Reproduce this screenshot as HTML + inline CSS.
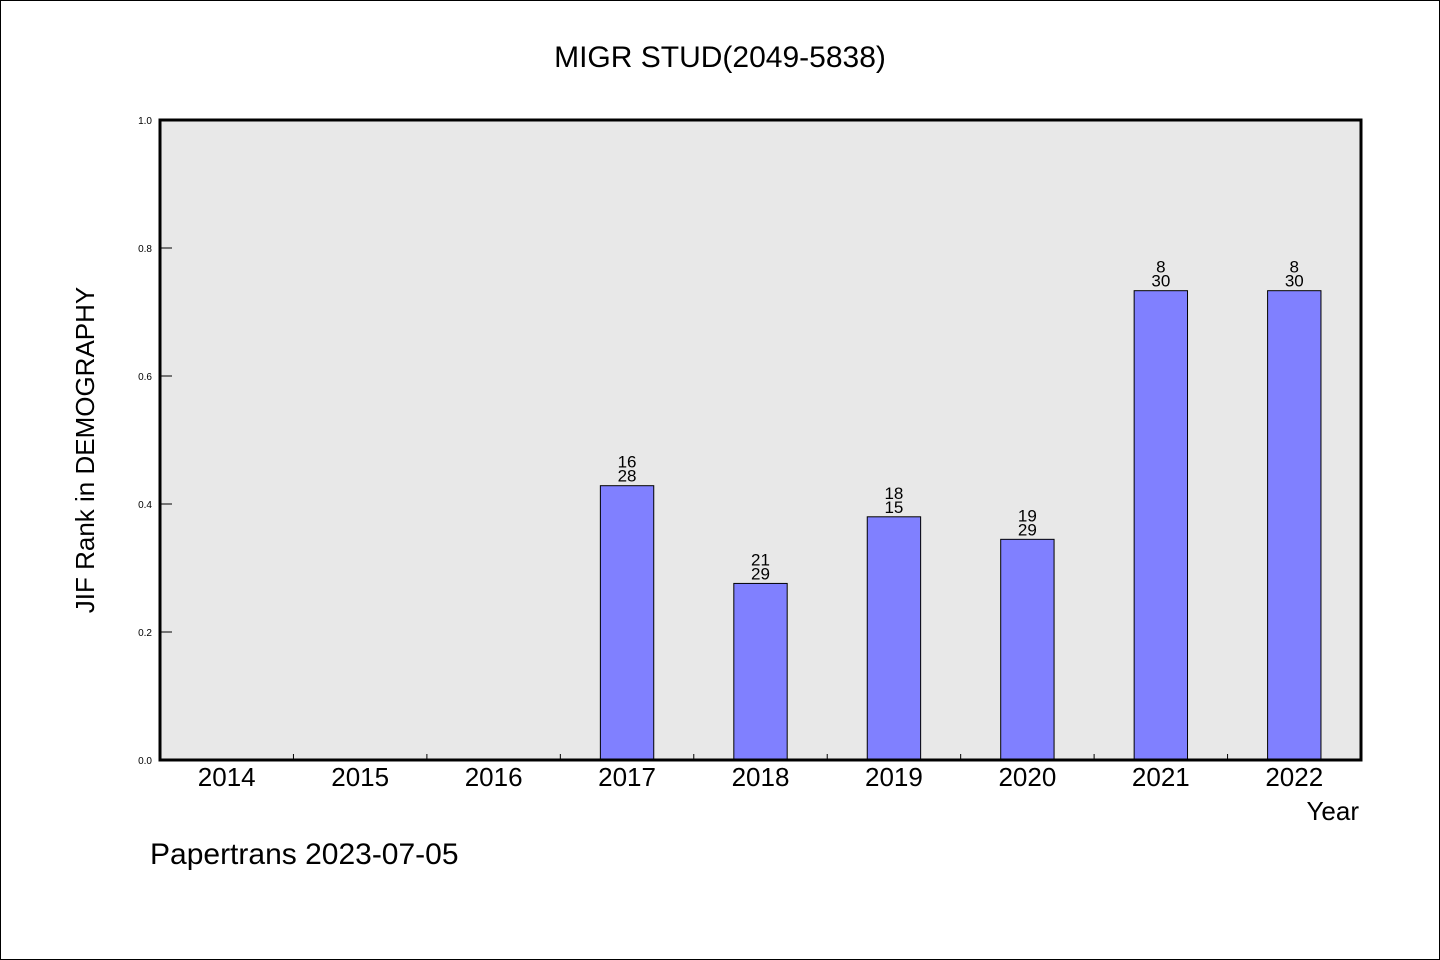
<!DOCTYPE html>
<html><head><meta charset="utf-8"><style>
html,body{margin:0;padding:0;background:#fff}
svg{display:block}
text{font-family:"WenQuanYi Zen Hei","Liberation Sans",sans-serif;fill:#000}
</style></head><body>
<svg id="chart" width="1440" height="960" viewBox="0 0 1440 960" xmlns="http://www.w3.org/2000/svg">
<rect x="0.5" y="0.5" width="1439" height="959" fill="#fff" stroke="#000"/>
<text x="720" y="67" font-size="30" text-anchor="middle">MIGR STUD(2049-5838)</text>
<rect x="160" y="120" width="1201" height="640" fill="#e8e8e8"/>
<g id="marks"></g>
<rect x="160" y="120" width="1201" height="640" fill="none" stroke="#000" stroke-width="3"/>
<text x="0" y="0" font-size="26" text-anchor="middle" transform="translate(94,450) rotate(-90)">JIF Rank in DEMOGRAPHY</text>
<text x="1359" y="820" font-size="26" text-anchor="end">Year</text>
<text x="150" y="864" font-size="30">Papertrans 2023-07-05</text>
</svg>
<script>
const categories = ["2014","2015","2016","2017","2018","2019","2020","2021","2022"];
const values = [null,null,null,0.4286,0.2759,0.38,0.3448,0.7333,0.7333];
const rankLabels = [null,null,null,"16","21","18","19","8","8"];
const totalLabels = [null,null,null,"28","29","15","29","30","30"];
const yTicks = [0,0.2,0.4,0.6,0.8,1.0];
const yTickLabels = ["0.0","0.2","0.4","0.6","0.8","1.0"];

const NS="http://www.w3.org/2000/svg";
const X0=160,X1=1361,Y0=760,Y1=120;
const band=(X1-X0)/categories.length;
const xScale=i=>X0+band*(i+0.5);
const yScale=v=>Y0-(Y0-Y1)*v;
const g=document.getElementById('marks');
function mk(tag,attrs,text){const e=document.createElementNS(NS,tag);for(const k in attrs)e.setAttribute(k,attrs[k]);if(text!=null)e.textContent=text;g.appendChild(e);return e;}

yTicks.forEach((t,i)=>{
  const y=yScale(t);
  const l=mk('line',{x1:X0,x2:X0+12,y1:y,y2:y,stroke:'#000','stroke-width':1});
  
  
  const tx=mk('text',{x:152,y:y+4,'font-size':10,'text-anchor':'end'},yTickLabels[i]);
  
  
});
for(let i=1;i<categories.length;i++){
  const x=X0+band*i;
  const l=mk('line',{x1:x,x2:x,y1:Y0,y2:Y0-6,stroke:'#000','stroke-width':1});
  
  
}
categories.forEach((c,i)=>{
  const tx=mk('text',{x:xScale(i),y:786,'font-size':26,'text-anchor':'middle'},c);
  
  
  const v=values[i];
  if(v==null)return;
  const bw=band*0.4,y=yScale(v);
  const r=mk('rect',{x:xScale(i)-bw/2,y:y,width:bw,height:Y0-y,fill:'#8080ff',stroke:'#000','stroke-width':1});
  
  
  const t1=mk('text',{x:xScale(i),y:y-18,'font-size':17,'text-anchor':'middle'},rankLabels[i]);
  
  
  const t2=mk('text',{x:xScale(i),y:y-4,'font-size':17,'text-anchor':'middle'},totalLabels[i]);
  
  
});
</script>
</body></html>
